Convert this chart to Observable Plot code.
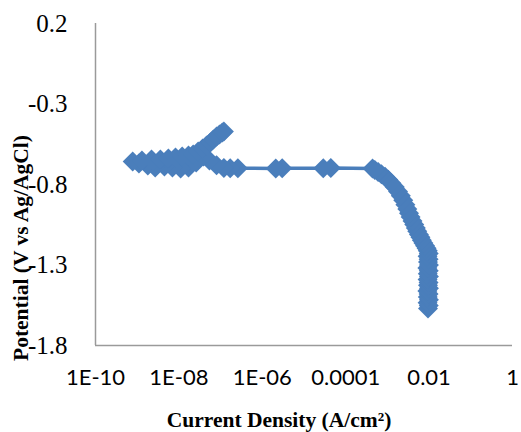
<!DOCTYPE html>
<html>
<head>
<meta charset="utf-8">
<script src="https://cdn.jsdelivr.net/npm/d3@7"></script>
<script src="https://cdn.jsdelivr.net/npm/@observablehq/plot@0.6"></script>
<style>
  html, body { margin: 0; padding: 0; background: #fff; }
  #chart svg { display: block; }
</style>
</head>
<body>
<div id="chart"></div>
<script>
// Potentiodynamic polarization scan: current density (A/cm²) vs potential (V vs Ag/AgCl)
const current = [
  // cathodic branch, from the most negative potential upward
  0.0094, 0.0098, 0.0092, 0.0099, 0.0093, 0.0097, 0.0091, 0.0099, 0.0094, 0.0097,
  0.0092, 0.0099, 0.0093, 0.0098, 0.0091, 0.0099, 0.0094, 0.0097, 0.0092, 0.0098,
  0.0093, 0.0087, 0.0080, 0.0073, 0.0067, 0.0062, 0.0057, 0.0052, 0.0048, 0.0044,
  0.0040, 0.0036, 0.0033, 0.0030, 0.0027, 0.0024, 0.0021, 0.0018, 0.0015, 0.00125,
  0.00105, 0.00088, 0.00072, 0.00060, 0.00050, 0.00044,
  // near the corrosion potential
  0.000044, 0.000029, 0.0000030, 0.0000021, 2.6e-7, 1.7e-7, 1.2e-7,
  8.0e-8, 5.4e-8, 3.9e-8, 2.6e-8, 1.7e-8, 1.1e-8, 7.0e-9, 4.5e-9, 2.7e-9,
  1.8e-9, 1.1e-9, 7.8e-10,
  // anodic branch
  1.3e-9, 2.2e-9, 3.6e-9, 5.6e-9, 8.3e-9, 1.2e-8, 1.7e-8, 2.2e-8, 2.9e-8, 3.7e-8,
  4.6e-8, 5.7e-8, 6.7e-8, 8.0e-8, 9.4e-8, 1.1e-7, 1.2e-7
];
const potential = [
  -1.570, -1.552, -1.534, -1.516, -1.498, -1.480, -1.462, -1.444, -1.426, -1.408,
  -1.390, -1.372, -1.354, -1.336, -1.318, -1.300, -1.282, -1.264, -1.246, -1.228,
  -1.212, -1.196, -1.180, -1.163, -1.146, -1.128, -1.110, -1.090, -1.070, -1.048,
  -1.026, -1.002, -0.978, -0.952, -0.925, -0.898, -0.870, -0.843, -0.816, -0.792,
  -0.770, -0.752, -0.736, -0.722, -0.710, -0.700,
  -0.698, -0.699, -0.699, -0.700, -0.699, -0.699, -0.698,
  -0.680, -0.651, -0.626, -0.663, -0.694, -0.700, -0.694, -0.688, -0.694,
  -0.682, -0.670, -0.657,
  -0.651, -0.645, -0.645, -0.639, -0.632, -0.626, -0.620, -0.614, -0.595, -0.576,
  -0.558, -0.539, -0.520, -0.502, -0.489, -0.477, -0.471
];

const xTicks = [1e-10, 1e-8, 1e-6, 1e-4, 1e-2, 1];
const xTickLabels = ["1E-10", "1E-08", "1E-06", "0.0001", "0.01", "1"];
const yTicks = [-1.8, -1.3, -0.8, -0.3, 0.2];
const yTickLabels = ["-1.8", "-1.3", "-0.8", "-0.3", "0.2"];

const xTitle = "Current Density (A/cm²)";
const yTitle = "Potential (V vs Ag/AgCl)";

const scan = current.map((c, i) => ({current: c, potential: potential[i]}));

const blue = "#4a7ebb";
const axisGrey = "#9a9a9a";

const chart = Plot.plot({
  width: 521,
  height: 432,
  marginLeft: 95,
  marginTop: 23,
  marginBottom: 87,
  marginRight: 9,
  style: {background: "#fff", overflow: "visible"},
  x: {type: "log", domain: [1e-10, 1]},
  y: {domain: [-1.8, 0.2]},
  marks: [
    Plot.axisX(xTicks, {
      tickSize: 0, tickPadding: 24, fontSize: 22, fontFamily: "Lato",
      fill: "#000", label: null,
      tickFormat: d => xTickLabels[xTicks.indexOf(d)]
    }),
    Plot.axisY(yTicks, {
      tickSize: 0, tickPadding: 28, fontSize: 25, fontFamily: "Liberation Serif",
      fill: "#000", label: null,
      tickFormat: d => yTickLabels[yTicks.indexOf(d)]
    }),
    Plot.ruleX([1e-10], {stroke: axisGrey, strokeWidth: 1.5}),
    Plot.ruleY([-1.8], {stroke: axisGrey, strokeWidth: 1.5}),
    Plot.line(scan, {x: "current", y: "potential", stroke: blue, strokeWidth: 3.5}),
    Plot.dot(scan, {x: "current", y: "potential", symbol: "diamond2", r: 9, fill: blue, stroke: "none"})
  ]
});

document.getElementById("chart").appendChild(chart);

// axis titles
const svg = d3.select(chart);
svg.append("text")
  .attr("x", 279).attr("y", 427)
  .attr("text-anchor", "middle")
  .attr("font-family", "Liberation Serif")
  .attr("font-weight", "bold")
  .attr("font-size", 21.5)
  .attr("fill", "#000")
  .text(xTitle);
svg.append("text")
  .attr("transform", "translate(28,248) rotate(-90)")
  .attr("text-anchor", "middle")
  .attr("font-family", "Liberation Serif")
  .attr("font-weight", "bold")
  .attr("font-size", 21.5)
  .attr("fill", "#000")
  .text(yTitle);
</script>
</body>
</html>
